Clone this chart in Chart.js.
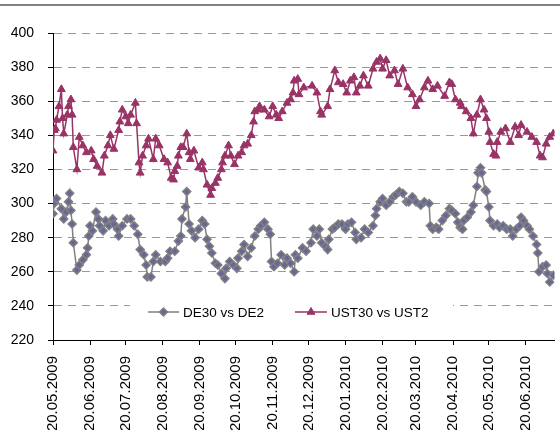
<!DOCTYPE html>
<html>
<head>
<meta charset="utf-8">
<script src="https://cdn.jsdelivr.net/npm/chart.js@4.4.0/dist/chart.umd.min.js"></script>
<style>
  html, body { margin: 0; padding: 0; background: #fff; }
  #wrap { position: relative; width: 560px; height: 430px; }
  #topline { position: absolute; left: 0; top: 4px; width: 560px; height: 2px; background: #808080; }
</style>
</head>
<body>
<div id="wrap">
  <div id="topline"></div>
  <canvas id="chart"></canvas>
</div>
<script>
// month ticks on the x axis
const tickLabels = ["20.05.2009", "20.06.2009", "20.07.2009", "20.08.2009", "20.09.2009", "20.10.2009",
  "20.11.2009", "20.12.2009", "20.01.2010", "20.02.2010", "20.03.2010", "20.04.2010", "20.05.2010", "20.06.2010"];
const yTicks = [220, 240, 260, 280, 300, 320, 340, 360, 380, 400];

const seriesNames = ["DE30 vs DE2", "UST30 vs UST2"];

// days since 20.05.2009
const deDays = [0, 1, 3, 7, 9, 11, 13, 14, 15, 16, 17, 20, 22, 25, 28, 29, 30, 31, 33, 36, 38, 39, 42, 44, 47, 50, 51, 54, 55, 58,
  62, 65, 68, 71, 73, 76, 78, 79, 82, 84, 86, 90, 94, 96, 98, 102, 105, 107, 108, 111, 112, 114, 116, 119, 122, 125, 127, 129, 131, 133,
  136, 138, 141, 144, 145, 148, 151, 154, 155, 158, 160, 163, 166, 169, 172, 174, 177, 180, 182, 183, 185, 188, 191, 194, 196, 199, 202, 203,
  205, 209, 212, 216, 218, 221, 223, 225, 228, 230, 231, 234, 236, 239, 242, 245, 247, 250, 253, 254, 258, 261, 264, 268, 270, 271,
  274, 276, 279, 282, 285, 287, 290, 293, 296, 298, 301, 304, 308, 311, 315, 316, 318, 321, 323, 326, 329, 332, 334, 337, 339, 341,
  343, 344, 347, 350, 352, 355, 356, 358, 359, 362, 363, 365, 366, 369, 372, 374, 377, 380, 383, 385, 388, 391, 392, 394, 397, 399,
  402, 405, 406, 407, 410, 413, 414, 416, 419];
const deValues = [294, 300, 303, 297, 291, 295, 301, 306, 296, 288, 277, 261, 264, 267, 270, 274, 281, 287, 284, 295, 291, 287, 284, 290, 287, 291, 288, 285, 281, 287,
  291, 291, 287, 282, 273, 270, 264, 257, 257, 266, 270, 266, 266, 268, 272, 272, 278, 281, 291, 298, 307, 288, 284, 280, 285, 290, 288, 279, 275, 271,
  265, 264, 259, 256, 262, 266, 264, 262, 268, 272, 276, 269, 274, 281, 285, 287, 289, 285, 282, 266, 263, 265, 270, 264, 268, 265, 260, 270,
  268, 274, 272, 277, 285, 281, 285, 277, 275, 273, 279, 285, 286, 288, 288, 285, 288, 289, 283, 279, 280, 285, 283, 287, 293, 297,
  301, 303, 299, 301, 304, 305, 307, 306, 301, 301, 304, 301, 299, 301, 300, 287, 285, 286, 285, 290, 293, 297, 296, 294, 289, 286,
  285, 290, 292, 295, 299, 310, 318, 321, 318, 308, 307, 298, 290, 287, 288, 286, 287, 285, 285, 281, 285, 287, 292, 290, 287, 285,
  281, 276, 271, 260, 263, 264, 259, 254, 258];

const ustDays = [0, 1, 2, 3, 5, 7, 8, 9, 12, 13, 15, 16, 17, 20, 22, 25, 28, 32, 34, 37, 41, 43, 46, 48, 51, 55, 56, 58, 61, 63,
  65, 69, 70, 72, 73, 75, 78, 80, 84, 86, 89, 93, 96, 99, 101, 102, 104, 105, 107, 109, 112, 114, 115, 118, 122, 125, 126, 129, 132, 133,
  136, 138, 141, 142, 144, 147, 149, 152, 155, 158, 160, 163, 166, 168, 169, 172, 173, 177, 181, 184, 187, 189, 192, 196, 199, 201, 202, 205,
  206, 210, 217, 221, 224, 225, 230, 232, 236, 239, 243, 246, 249, 252, 254, 257, 260, 264, 268, 271, 274, 276, 279, 282, 286, 289,
  293, 297, 301, 304, 307, 311, 314, 318, 322, 328, 332, 334, 337, 341, 342, 346, 350, 352, 355, 358, 361, 363, 365, 366, 369, 371,
  372, 375, 379, 383, 387, 390, 392, 397, 401, 405, 408, 410, 413, 416, 419];
const ustValues = [331, 343, 344, 349, 357, 367, 350, 341, 352, 357, 361, 352, 333, 320, 339, 334, 330, 331, 326, 322, 318, 328, 334, 340, 332, 343, 348, 355, 351, 347,
  352, 359, 347, 324, 318, 328, 334, 338, 326, 338, 334, 326, 324, 315, 314, 319, 322, 328, 333, 333, 341, 330, 326, 331, 321, 324, 320, 311, 305, 309,
  312, 315, 320, 324, 328, 334, 328, 323, 328, 330, 334, 335, 340, 348, 354, 355, 357, 355, 351, 357, 352, 350, 354, 359, 361, 365, 372, 373,
  364, 368, 369, 365, 354, 352, 357, 367, 378, 371, 370, 365, 372, 374, 365, 369, 375, 369, 379, 383, 385, 379, 384, 375, 378, 370,
  379, 368, 364, 357, 361, 368, 372, 367, 369, 363, 371, 370, 361, 359, 357, 354, 350, 341, 352, 361, 355, 350, 342, 336, 329, 328,
  336, 342, 344, 336, 345, 340, 346, 342, 339, 336, 328, 327, 335, 339, 341];

const DAY = 86400000;
const start = Date.UTC(2009, 4, 20);
const tickDays = tickLabels.map((s) => {
  const [d, m, y] = s.split(".").map(Number);
  return Math.round((Date.UTC(y, m - 1, d) - start) / DAY);
});

const FONT = "'Liberation Sans', Arial, sans-serif";
const grey = "#808080";
const plum = "#993366";

const pairs = (xs, ys) => xs.map((x, i) => ({ x, y: ys[i] }));

// legend sits inside the plot, over the 240 grid line
const insideLegend = {
  id: "insideLegend",
  afterDraw(chart) {
    const ctx = chart.ctx;
    const y = 312;
    const spots = [{ x0: 148, x1: 179, tx: 183 }, { x0: 295, x1: 327, tx: 331 }];
    ctx.save();
    ctx.fillStyle = "#fff";
    ctx.fillRect(130, 299, 323, 24);
    chart.data.datasets.forEach((ds, i) => {
      const s = spots[i];
      ctx.strokeStyle = ds.borderColor;
      ctx.lineWidth = 1.5;
      ctx.beginPath();
      ctx.moveTo(s.x0, y);
      ctx.lineTo(s.x1, y);
      ctx.stroke();
      ctx.fillStyle = ds.pointBackgroundColor;
      ctx.strokeStyle = ds.pointBorderColor;
      ctx.lineWidth = ds.pointBorderWidth;
      Chart.helpers.drawPoint(ctx, { pointStyle: ds.pointStyle, radius: ds.pointRadius, borderWidth: ds.pointBorderWidth, rotation: 0 },
        (s.x0 + s.x1) / 2, y);
      ctx.fillStyle = "#000";
      ctx.font = "13.5px " + FONT;
      ctx.textBaseline = "middle";
      ctx.fillText(ds.label, s.tx, y + 1);
    });
    ctx.restore();
  }
};

new Chart(document.getElementById("chart").getContext("2d"), {
  type: "line",
  data: {
    datasets: [
      {
        label: seriesNames[0],
        data: pairs(deDays, deValues),
        borderColor: grey,
        borderWidth: 1.5,
        pointStyle: "rectRot",
        pointRadius: 4,
        pointBackgroundColor: "#666699",
        pointBorderColor: grey,
        pointBorderWidth: 1.5,
        tension: 0
      },
      {
        label: seriesNames[1],
        data: pairs(ustDays, ustValues),
        borderColor: plum,
        borderWidth: 1.5,
        pointStyle: "triangle",
        pointRadius: 4.5,
        pointBackgroundColor: plum,
        pointBorderColor: plum,
        pointBorderWidth: 1,
        tension: 0
      }
    ]
  },
  options: {
    responsive: true,
    maintainAspectRatio: false,
    animation: false,
    layout: { padding: { top: 33, right: 0, left: 0, bottom: 0 } },
    plugins: { legend: { display: false }, tooltip: { enabled: false } },
    scales: {
      x: {
        type: "linear",
        min: 0,
        max: 420,
        afterBuildTicks: (s) => { s.ticks = tickDays.map((v) => ({ value: v })); },
        afterFit: (s) => { s.height = 90; },
        grid: { drawOnChartArea: false, tickLength: 5, tickColor: "#000" },
        border: { color: "#000", width: 1 },
        ticks: {
          autoSkip: false,
          minRotation: 90,
          maxRotation: 90,
          padding: 11,
          color: "#000",
          font: { family: FONT, size: 15 },
          callback: (v, i) => tickLabels[i]
        }
      },
      y: {
        min: 220,
        max: 400,
        afterBuildTicks: (s) => { s.ticks = yTicks.map((v) => ({ value: v })); },
        afterFit: (s) => { s.width = 53; },
        grid: { color: "#999", tickLength: 5, tickColor: "#000", tickBorderDash: [] },
        border: { color: "#000", width: 1, dash: [8, 6] },
        ticks: { padding: 14, color: "#000", font: { family: FONT, size: 14 } }
      }
    }
  },
  plugins: [insideLegend]
});
</script>
</body>
</html>
